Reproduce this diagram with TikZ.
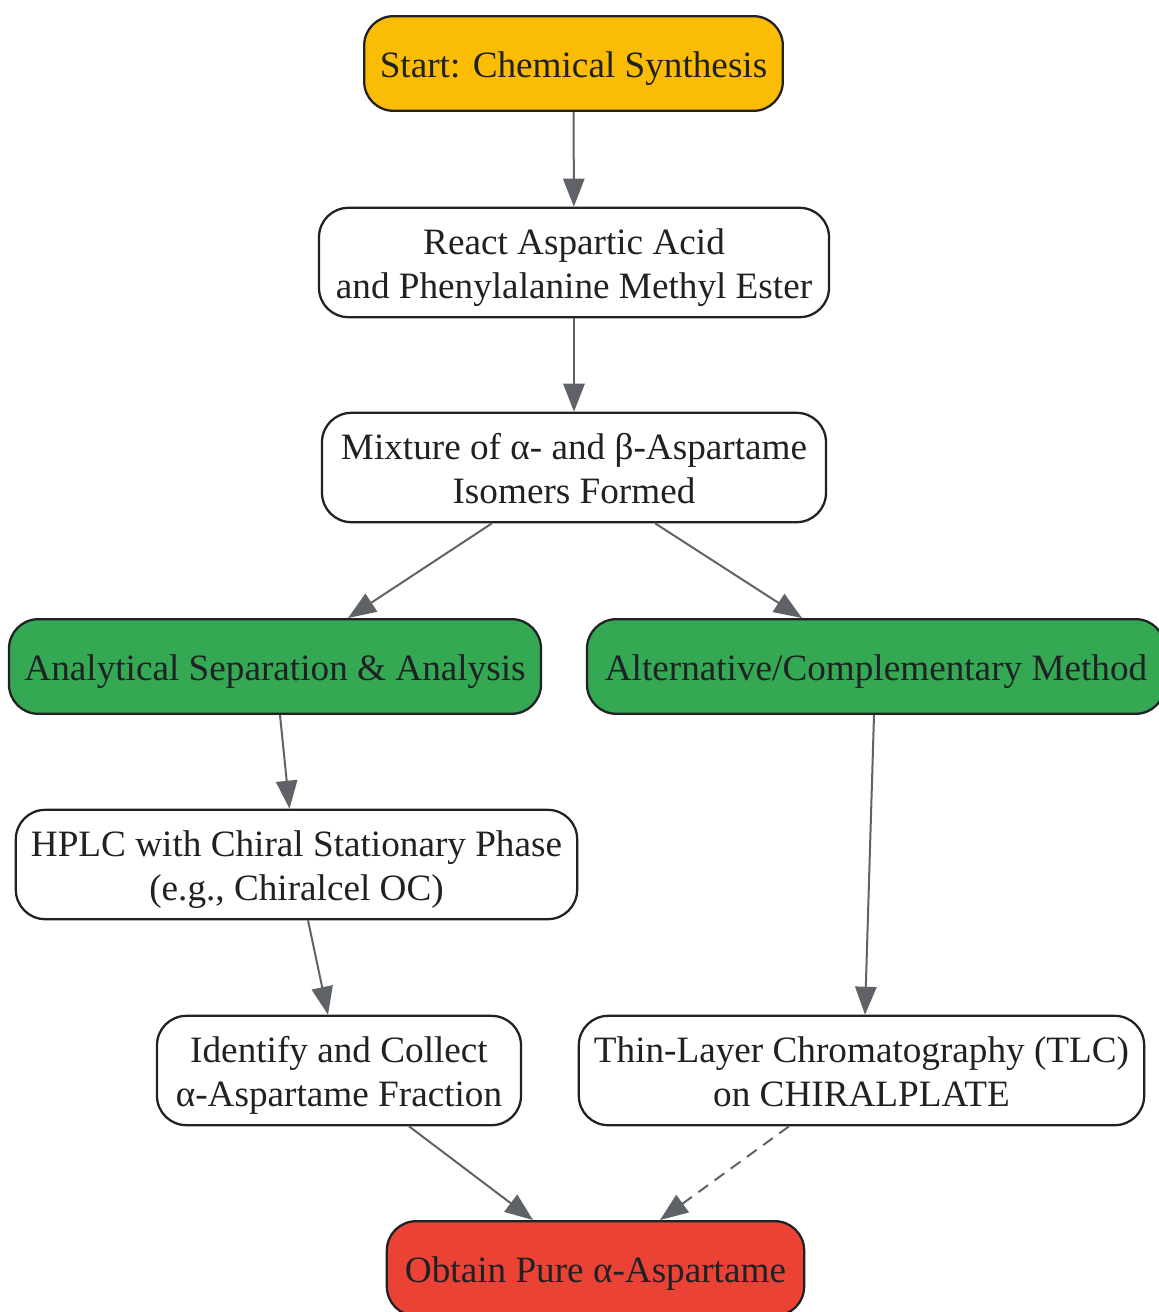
\documentclass[tikz,border=0pt]{standalone}
\usepackage{fontspec}
\setmainfont{Liberation Serif}
\usetikzlibrary{arrows.meta,calc}
\definecolor{txtgray}{HTML}{202124}
\definecolor{edgegray}{HTML}{5F6368}
\definecolor{startyellow}{HTML}{FBBC05}
\definecolor{methodgreen}{HTML}{34A853}
\definecolor{endred}{HTML}{EA4335}
\begin{document}
\begin{tikzpicture}[x=0.75pt,y=-0.75pt,
  box/.style={draw=txtgray,line width=1.7pt,rounded corners=22pt,fill=white,text=txtgray,
    align=center,inner sep=0pt,minimum height=82pt,text height=59.5pt,text depth=6pt,
    font=\fontsize{27.9}{33}\selectfont},
  flatbox/.style={box,minimum height=71pt,text height=26.5pt},
  flow/.style={draw=edgegray,line width=1.5pt,-{Triangle[length=21pt,width=16pt]},edgegray}]
\useasboundingbox (0,0) rectangle (1158,1312);
%nodes
\node[flatbox,fill=startyellow,minimum width=314pt] (start) at (573.5,63.5) {Start: Chemical Synthesis};
\node[box,minimum width=382.5pt] (react) at (574,262.5) {React Aspartic Acid\\and Phenylalanine Methyl Ester};
\node[box,minimum width=378pt] (mixture) at (574,467.5) {Mixture of α- and β-Aspartame\\Isomers Formed};
\node[flatbox,fill=methodgreen,minimum width=399pt] (analytical) at (275,666.5) {Analytical Separation \& Analysis};
\node[flatbox,fill=methodgreen,minimum width=433.5pt] (alternative) at (876,666.5) {Alternative/Complementary Method};
\node[box,minimum width=421pt] (hplc) at (296.5,864.5) {HPLC with Chiral Stationary Phase\\(e.g., Chiralcel OC)};
\node[box,minimum width=273pt] (identify) at (339,1070.5) {Identify and Collect\\α-Aspartame Fraction};
\node[box,minimum width=424pt] (tlc) at (861.5,1070.5) {Thin-Layer Chromatography (TLC)\\on CHIRALPLATE};
\node[flatbox,fill=endred,minimum width=313pt] (obtain) at (595.5,1268.5) {Obtain Pure α-Aspartame};
%edges
\draw[flow] (start) -- (react);
\draw[flow] (react) -- (mixture);
\draw[flow] ($(mixture.south)+(-82,0)$) -- ($(analytical.north)+(73,0)$);
\draw[flow] ($(mixture.south)+(81,0)$) -- ($(alternative.north)+(-74,0)$);
\draw[flow] ($(analytical.south)+(5,0)$) -- ($(hplc.north)+(-7,0)$);
\draw[flow] ($(hplc.south)+(11.5,0)$) -- ($(identify.north)+(-11,0)$);
\draw[flow] ($(alternative.south)+(-2,0)$) -- ($(tlc.north)+(3.5,0)$);
\draw[flow] ($(identify.south)+(70,0)$) -- ($(obtain.north)+(-62.5,0)$);
\draw[flow,dashed,dash pattern=on 9pt off 6pt] ($(tlc.south)+(-72.5,0)$) -- ($(obtain.north)+(64.5,0)$);
\end{tikzpicture}
\end{document}
